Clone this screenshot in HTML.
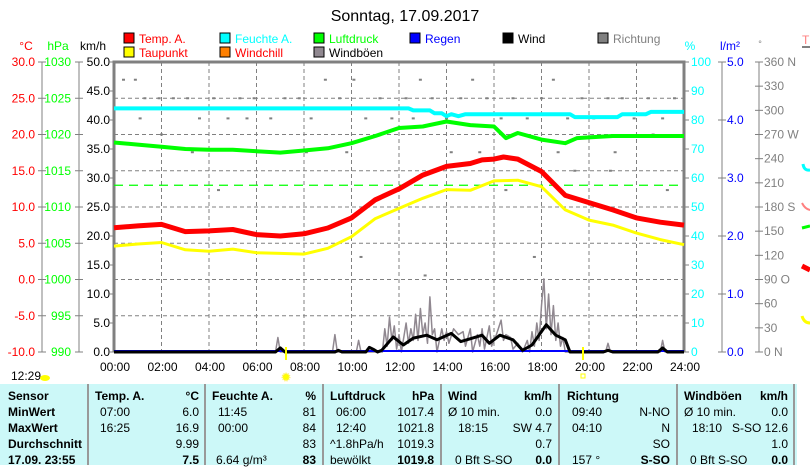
<!DOCTYPE html>
<html><head><meta charset="utf-8">
<style>
body{margin:0;width:810px;height:465px;overflow:hidden;background:#fff;font-family:"Liberation Sans",sans-serif;position:relative}
svg{position:absolute;left:0;top:0}
.tbl{position:absolute;left:0;top:384px;width:797px;height:81px;background:#ccf8f8}
.c{position:absolute;font-size:12px;white-space:nowrap;color:#000}
.b{font-weight:bold}
.sep{position:absolute;top:384px;width:2px;height:81px;background:#999}
</style></head><body>
<svg width="810" height="465" font-family="Liberation Sans, sans-serif" font-size="12">
<text x="405" y="21" text-anchor="middle" font-size="16">Sonntag, 17.09.2017</text>
<g id="legend"></g>
<g id="grid"></g>
<g id="axes"></g>
<g id="series"></g>
</svg>
<div class="tbl"></div>
<div id="tb"></div>
<script>
const NS="http://www.w3.org/2000/svg";
// ---- data ----
const tempHours=[0,1,2,3,4,5,6,7,8,9,10,11,12,13,14,15,15.5,16,16.4,17,18,19,20,21,22,23,24];
const tempVals=[7.15,7.4,7.6,6.6,6.7,6.9,6.2,6.0,6.3,7.1,8.5,11.0,12.5,14.4,15.6,16.0,16.5,16.6,16.9,16.6,14.9,11.6,10.6,9.6,8.5,7.9,7.5];
const dewHours=[0,1,2,3,4,5,6,7,8,9,10,11,12,13,14,15,16,17,18,19,20,21,22,23,24];
const dewVals=[4.6,4.9,5.1,4.1,3.9,4.2,3.7,3.6,3.5,4.3,5.9,8.4,9.8,11.2,12.4,12.3,13.6,13.7,12.8,9.6,8.2,7.5,6.4,5.5,4.8];
const presHours=[0,1,2,3,4,5,6,7,8,9,10,11,12,13,14,15,16,16.5,17,18,19,19.5,20,21,22,23,24];
const presVals=[1018.9,1018.6,1018.3,1018.0,1017.9,1017.9,1017.7,1017.5,1017.8,1018.1,1018.8,1019.8,1020.9,1021.1,1021.8,1021.3,1021.1,1019.5,1020.2,1019.3,1018.8,1019.5,1019.6,1019.8,1019.8,1019.8,1019.8];
const humHours=[0,12.4,12.6,13.3,13.5,13.8,14.0,14.2,14.5,14.8,19.2,19.4,21.2,21.4,22.4,22.6,24];
const humVals=[84,84,83.3,83.3,82.3,82.3,81.3,82.0,81.3,82.0,82.0,81.0,81.0,82.0,82.0,82.8,82.8];
const windHours=[0,6.8,7.0,7.2,9.3,9.45,9.6,10.6,10.75,10.95,11.1,11.27,11.76,12.18,12.6,13.17,13.6,14.2,14.6,15.1,15.5,15.8,16.25,16.8,17.2,17.6,18.2,18.6,19.0,19.2,20.6,20.8,21.0,22.9,23.1,23.3,24];
const windVals=[0,0,0.7,0,0,0.3,0,0,0.8,0.4,0,0.3,2.6,1.2,2.4,2.9,2.1,3.2,1.8,2.4,2.9,1.5,2.9,2.1,0.3,1.2,4.7,2.9,2.1,0,0,0.3,0,0,0.7,0,0];
const gustHours=[0,6.8,6.9,7.0,9.2,9.3,9.4,10.2,10.3,10.4,11.3,11.4,11.5,11.6,11.7,11.8,11.9,12.0,12.1,12.3,12.4,12.5,12.6,12.7,12.8,12.9,13.0,13.1,13.2,13.3,13.4,13.5,13.6,13.8,13.9,14.0,14.1,14.3,14.5,14.7,14.8,15.0,15.1,15.3,15.4,15.5,15.6,15.8,15.9,16.1,16.3,16.4,16.5,16.7,16.8,17.0,17.2,17.4,17.5,17.6,17.7,17.8,17.9,18.0,18.1,18.2,18.3,18.4,18.5,18.6,18.7,18.8,18.9,19.0,20.7,20.8,20.9,23.0,23.1,23.2,24];
const gustVals=[0,0,2.5,0,0,3,0,0,2,0,0,4,1,6,2,4.5,0.5,3,0,5,1.5,4,2,6.5,2,7.5,3,5,1.5,9.5,3,4,0,4,2,3.5,1.5,4,3,3.5,1,4,0,3,1,4,0.5,4.5,1,3,5.5,2,3,2.5,0.5,1.5,0,2,0,3.5,1,5,2,8,12.6,4,10,3,8,2,5,1,2.5,0,0,1.5,0,0,2,0,0];
const dirHours=[0.4,0.9,1.3,1.9,2.5,3.1,3.6,4.2,4.8,5.3,5.9,6.6,7.2,7.8,8.3,8.9,9.5,10.1,10.6,11.2,11.7,12.3,12.9,13.4,14.0,14.6,15.1,15.7,16.3,16.8,17.4,18.0,18.5,19.1,19.7,20.2,20.8,21.4,21.9,22.5,23.1,23.6,1.1,3.3,5.6,9.8,12.0,14.2,16.5,18.7,20.9,23.3,2.0,6.1,10.4,13.1,17.7,21.1,4.4,8.1,12.6,15.4,19.4,22.7];
const dirVals=[338,338,315,315,315,315,290,315,290,315,315,290,315,315,290,338,315,338,290,315,290,315,338,315,290,315,338,315,290,315,290,315,338,290,315,290,315,315,290,315,290,315,290,248,290,248,201,248,201,248,225,201,270,248,118,95,118,248,201,248,290,248,225,270];
// ---- scales ----
const xT=h=>114+h*23.75;
const yC=t=>62+(30-t)*7.25;
const yP=p=>62+(1030-p)*7.25;
const yW=k=>352-k*5.8;
const yH=v=>62+(100-v)*2.9;
const yD=d=>352-d*290/360;
function mk(tag,attrs,parent,txt){const e=document.createElementNS(NS,tag);for(const k in attrs)e.setAttribute(k,attrs[k]);if(txt!==undefined)e.textContent=txt;parent.appendChild(e);return e;}
const G=document.getElementById('grid'),A=document.getElementById('axes'),S=document.getElementById('series'),L=document.getElementById('legend');
for(let h=2;h<24;h+=2){const l=mk('line',{x1:xT(h),y1:62,x2:xT(h),y2:352,stroke:'#808080','stroke-dasharray':'4,3'},G);

}
for(let t=25;t>-10;t-=5){const l=mk('line',{x1:114,y1:yC(t),x2:684,y2:yC(t),stroke:'#808080','stroke-dasharray':'4,3'},G);

}
dirHours.forEach((h,i)=>{const r=mk('rect',{x:xT(h)-1.5,y:yD(dirVals[i])-1,width:3,height:2,fill:'#808080'},S);

});
const ref=mk('line',{x1:114,y1:yP(1013),x2:684,y2:yP(1013),stroke:'#00ff00','stroke-dasharray':'9,6','stroke-width':1.3},S);


function poly(hs,vs,y,color,w,name){const pts=hs.map((h,i)=>xT(h).toFixed(1)+','+y(vs[i]).toFixed(1)).join(' ');
const p=mk('polyline',{points:pts,fill:'none',stroke:color,'stroke-width':w,'stroke-linejoin':'round'},S);

}
poly(gustHours,gustVals,yW,'#908890',1.5,'gust-line');
poly(humHours,humVals,yH,'#00ffff',4,'humidity-line');
poly(presHours,presVals,yP,'#00ff00',4,'pressure-line');
poly(dewHours,dewVals,yC,'#ffff00',3,'dewpoint-line');
poly(tempHours,tempVals,yC,'#ff0000',5,'temperature-line');
const rain=mk('line',{x1:114,y1:351,x2:684,y2:351,stroke:'#0000ff','stroke-width':2},S);


poly(windHours,windVals,yW,'#000000',3,'wind-line');
const fr=mk('path',{d:'M114,352 V62 H684 V352',fill:'none',stroke:'#808080','stroke-width':3},A);


mk('text',{x:26,y:50,fill:'#ff0000','text-anchor':'middle'},A,'°C');
mk('text',{x:58,y:50,fill:'#00ff00','text-anchor':'middle'},A,'hPa');
mk('text',{x:93,y:50,fill:'#000','text-anchor':'middle'},A,'km/h');
mk('line',{x1:42,y1:62,x2:42,y2:352,stroke:'#808080'},A);
mk('line',{x1:79,y1:62,x2:79,y2:352,stroke:'#808080'},A);
for(let i=0;i<=8;i++){const y=62+i*36.25;
mk('line',{x1:38,y1:y,x2:46,y2:y,stroke:'#808080'},A);
mk('line',{x1:75,y1:y,x2:83,y2:y,stroke:'#808080'},A);
const t=mk('text',{x:35,y:y+4,fill:'#ff0000','text-anchor':'end'},A,(30-i*5).toFixed(1));


mk('text',{x:71,y:y+4,fill:'#00ff00','text-anchor':'end'},A,String(1030-i*5));}
for(let i=0;i<=10;i++){const y=62+i*29;
mk('line',{x1:110,y1:y,x2:114,y2:y,stroke:'#808080'},A);
mk('text',{x:110,y:y+4,'text-anchor':'end'},A,(50-i*5).toFixed(1));
mk('line',{x1:684,y1:y,x2:689,y2:y,stroke:'#808080'},A);
mk('text',{x:691,y:y+4,fill:'#00ffff'},A,String(100-i*10));}
for(let h=0;h<=24;h+=2){const t=mk('text',{x:xT(h)+1,y:371,'text-anchor':'middle'},A,(h<10?'0':'')+h+':00');

}
mk('text',{x:690,y:50,fill:'#00ffff','text-anchor':'middle'},A,'%');
mk('text',{x:730,y:50,fill:'#0000ff','text-anchor':'middle'},A,'l/m²');
mk('text',{x:760,y:47,fill:'#808080','text-anchor':'middle','font-size':9},A,'°');
mk('line',{x1:722,y1:62,x2:722,y2:352,stroke:'#808080'},A);
for(let i=0;i<=5;i++){const y=62+i*58;
mk('line',{x1:718,y1:y,x2:726,y2:y,stroke:'#808080'},A);
mk('text',{x:727,y:y+4,fill:'#0000ff'},A,(5-i).toFixed(1));}
mk('line',{x1:759,y1:62,x2:759,y2:352,stroke:'#808080'},A);
const dl=['360 N','330','300','270 W','240','210','180 S','150','120','90  O','60','30','0   N'];
for(let i=0;i<=12;i++){const y=62+i*290/12;
mk('line',{x1:755,y1:y,x2:763,y2:y,stroke:'#808080'},A);
mk('text',{x:764,y:y+4,fill:'#808080','xml:space':'preserve'},A,dl[i]);}
const leg=[[124,'#ff0000','Temp. A.','#ff0000'],[220,'#00ffff','Feuchte A.','#00ffff'],[314,'#00ff00','Luftdruck','#00ff00'],[410,'#0000ff','Regen','#0000ff'],[503,'#000000','Wind','#000'],[598,'#808080','Richtung','#808080']];
const leg2=[[124,'#ffff00','Taupunkt','#ff0000'],[220,'#ff8000','Windchill','#ff0000'],[314,'#908890','Windböen','#000']];
function legRow(arr,y){arr.forEach(a=>{const g=mk('g',{},L);


mk('rect',{x:a[0],y:y-9,width:10,height:10,fill:a[1],stroke:'#000'},g);
mk('text',{x:a[0]+15,y:y+1,fill:a[3]},g,a[2]);});}
legRow(leg,42);legRow(leg2,56);
mk('line',{x1:286,y1:347,x2:286,y2:360,stroke:'#ffff00','stroke-width':2},S);
mk('line',{x1:583,y1:347,x2:583,y2:360,stroke:'#ffff00','stroke-width':2},S);
mk('circle',{cx:286,cy:377,r:3.5,fill:'#ffff00',stroke:'#ffee66','stroke-width':2,'stroke-dasharray':'1,1'},S);
mk('rect',{x:581,y:374,width:4,height:4,fill:'none',stroke:'#ffff00'},S);
const tm=mk('text',{x:11,y:380},A,'12:29');


mk('ellipse',{cx:45,cy:378,rx:5,ry:3,fill:'#ffff00'},A);
mk('text',{x:802,y:44,fill:'#ff8080'},A,'T');
mk('line',{x1:802,y1:47,x2:810,y2:47,stroke:'#808080','stroke-width':2},A);
mk('path',{d:'M803,164 Q804,171 810,170',fill:'none',stroke:'#00ffff','stroke-width':3},A);
mk('path',{d:'M802,203 Q805,209 810,210',fill:'none',stroke:'#ff8080','stroke-width':2},A);
mk('line',{x1:802,y1:228,x2:810,y2:226,stroke:'#00ff00','stroke-width':3},A);
mk('line',{x1:802,y1:266,x2:810,y2:270,stroke:'#ff0000','stroke-width':5},A);
mk('path',{d:'M802,316 Q804,323 810,323',fill:'none',stroke:'#ffff00','stroke-width':3},A);
const tb=document.getElementById('tb');
function cell(x,y,t,cls,align){const d=document.createElement('div');d.className='c '+(cls||'');d.textContent=t;
if(align==='r'){d.style.right=(810-x)+'px';}else{d.style.left=x+'px';}d.style.top=(y-12)+'px';


tb.appendChild(d);}
[88,205,323,441,559,677,794].forEach(x=>{const s=document.createElement('div');s.className='sep';s.style.left=(x-1)+'px';


tb.appendChild(s);});
const rows=[401,417,433,449,465];
['Sensor','MinWert','MaxWert','Durchschnitt','17.09. 23:55'].forEach((t,i)=>cell(8,rows[i],t,'b'));
cell(95,rows[0],'Temp. A.','b');cell(199,rows[0],'°C','b','r');
cell(100,rows[1],'07:00');cell(199,rows[1],'6.0','','r');
cell(100,rows[2],'16:25');cell(199,rows[2],'16.9','','r');
cell(199,rows[3],'9.99','','r');cell(199,rows[4],'7.5','b','r');
cell(212,rows[0],'Feuchte A.','b');cell(316,rows[0],'%','b','r');
cell(218,rows[1],'11:45');cell(316,rows[1],'81','','r');
cell(218,rows[2],'00:00');cell(316,rows[2],'84','','r');
cell(316,rows[3],'83','','r');cell(216,rows[4],'6.64 g/m³');cell(316,rows[4],'83','b','r');
cell(330,rows[0],'Luftdruck','b');cell(434,rows[0],'hPa','b','r');
cell(336,rows[1],'06:00');cell(434,rows[1],'1017.4','','r');
cell(336,rows[2],'12:40');cell(434,rows[2],'1021.8','','r');
cell(330,rows[3],'^1.8hPa/h');cell(434,rows[3],'1019.3','','r');
cell(330,rows[4],'bewölkt');cell(434,rows[4],'1019.8','b','r');
cell(448,rows[0],'Wind','b');cell(552,rows[0],'km/h','b','r');
cell(448,rows[1],'Ø 10 min.');cell(552,rows[1],'0.0','','r');
cell(458,rows[2],'18:15');cell(552,rows[2],'SW 4.7','','r');
cell(552,rows[3],'0.7','','r');
cell(455,rows[4],'0 Bft S-SO');cell(552,rows[4],'0.0','b','r');
cell(567,rows[0],'Richtung','b');
cell(572,rows[1],'09:40');cell(670,rows[1],'N-NO','','r');
cell(572,rows[2],'04:10');cell(670,rows[2],'N','','r');
cell(670,rows[3],'SO','','r');
cell(572,rows[4],'157 °');cell(670,rows[4],'S-SO','b','r');
cell(684,rows[0],'Windböen','b');cell(788,rows[0],'km/h','b','r');
cell(684,rows[1],'Ø 10 min.');cell(788,rows[1],'0.0','','r');
cell(692,rows[2],'18:10');cell(788,rows[2],'S-SO 12.6','','r');
cell(788,rows[3],'1.0','','r');
cell(690,rows[4],'0 Bft S-SO');cell(788,rows[4],'0.0','b','r');
</script>
</body></html>
